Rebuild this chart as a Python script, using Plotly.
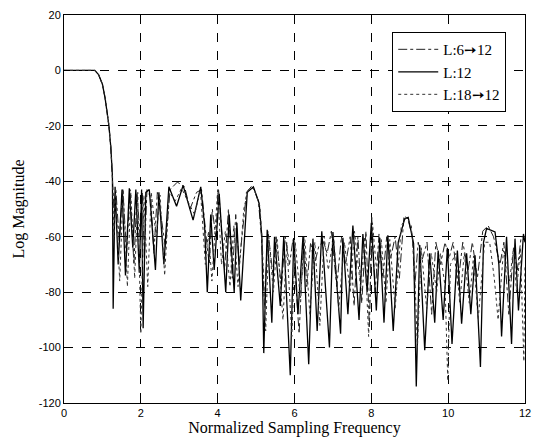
import plotly.graph_objects as go

x_ticks = [0, 2, 4, 6, 8, 10, 12]
y_ticks = [-120, -100, -80, -60, -40, -20, 0, 20]

names = ["L:6\u279912", "L:12", "L:18\u279912"]

# L:12 (solid)
x_l12 = [0, 0.8, 0.9, 1.0, 1.07, 1.12, 1.17, 1.22, 1.26, 1.28, 1.33, 1.41, 1.51, 1.60, 1.70, 1.79, 1.87, 1.96,
         2.02, 2.06, 2.13, 2.22, 2.31, 2.38, 2.47, 2.55, 2.60, 2.73, 2.93, 3.10, 3.36, 3.56, 3.66, 3.73, 3.82,
         3.91, 4.04, 4.21, 4.30, 4.43, 4.50, 4.60, 4.77, 4.93, 5.08, 5.15, 5.20, 5.29, 5.41, 5.48, 5.63, 5.72,
         5.89, 5.98, 6.09, 6.22, 6.37, 6.48, 6.59, 6.71, 6.91, 7.00, 7.20, 7.26, 7.39, 7.52, 7.68, 7.78, 7.89,
         8.00, 8.13, 8.22, 8.33, 8.43, 8.57, 8.70, 8.87, 8.96, 9.10, 9.17, 9.26, 9.39, 9.52, 9.65, 9.74, 9.87,
         9.98, 10.10, 10.24, 10.35, 10.48, 10.59, 10.70, 10.84, 10.92, 11.00, 11.22, 11.32, 11.39, 11.52, 11.65,
         11.74, 11.83, 11.96, 12.0]
y_l12 = [0, 0, -1.5, -5, -10, -15, -20, -28, -38, -86, -42, -70, -43, -74, -42.5, -64, -43, -73,
         -43, -93, -44, -43, -60, -72, -44, -58, -70, -42, -49, -41.5, -54, -42, -56, -80, -52,
         -72, -44.5, -80, -52, -80, -55, -83, -44, -42, -48, -60, -102, -57.5, -91, -60, -85, -60,
         -110, -60.5, -88, -60, -106, -60.7, -94, -58, -100, -58.3, -95, -60.4, -88, -56, -90, -59, -80,
         -55, -86.6, -60.4, -91, -59.5, -94, -62, -53.5, -53, -62.5, -114, -63, -101, -66, -91, -65, -90,
         -64, -98.7, -65, -91.4, -66, -88, -66.7, -107, -62, -57, -58.3, -70, -96, -60, -98.7,
         -60.7, -86.6, -59, -62]

# L:6->12 (dash-dot)
x_l6 = [0, 0.8, 0.9, 1.0, 1.07, 1.12, 1.17, 1.22, 1.26, 1.30, 1.35, 1.44, 1.53, 1.63, 1.72, 1.82, 1.90, 1.98,
        2.04, 2.09, 2.16, 2.26, 2.34, 2.43, 2.52, 2.64, 2.76, 2.95, 3.14, 3.28, 3.45, 3.58, 3.70, 3.78, 3.86,
        3.95, 4.02, 4.12, 4.18, 4.28, 4.38, 4.47, 4.56, 4.75, 4.90, 5.06, 5.14, 5.22, 5.31, 5.44, 5.52, 5.66,
        5.76, 5.87, 5.96, 6.12, 6.24, 6.32, 6.42, 6.52, 6.64, 6.76, 6.85, 6.96, 7.10, 7.22, 7.33, 7.45, 7.55,
        7.65, 7.75, 7.86, 7.95, 8.01, 8.10, 8.20, 8.30, 8.40, 8.50, 8.62, 8.73, 8.85, 8.95, 9.07, 9.13, 9.22,
        9.33, 9.45, 9.57, 9.68, 9.80, 9.92, 10.02, 10.13, 10.25, 10.38, 10.52, 10.63, 10.76, 10.90, 11.04,
        11.18, 11.35, 11.45, 11.58, 11.70, 11.80, 11.90, 12.0]
y_l6 = [0, 0, -1.5, -5, -10, -15, -20, -28, -38, -50, -43, -62, -42.5, -66, -43, -70, -44, -60,
        -44, -68, -43, -46, -66, -44, -52, -64, -43, -40.3, -42, -50, -44, -43, -60, -70, -50,
        -60, -42.5, -62, -72, -50, -75, -52, -70, -44, -41.5, -47, -60, -85, -58, -74, -60, -78,
        -60, -70, -61, -95, -60, -78, -62, -70, -63, -62, -66, -58, -78, -60, -70, -60, -85,
        -60, -84, -58, -93, -53, -80, -59, -75, -60, -68, -60, -75, -52.5, -53.5, -60, -78, -62,
        -68, -62, -88, -62, -70, -62, -68, -62, -78, -62, -72, -62, -75, -58, -56,
        -60, -70, -62, -88, -64, -72, -60, -60]

# L:18->12 (dotted)
x_l18 = [0, 0.8, 0.9, 1.0, 1.07, 1.12, 1.17, 1.22, 1.26, 1.30, 1.34, 1.45, 1.54, 1.65, 1.74, 1.84, 1.92, 2.00,
         2.08, 2.18, 2.27, 2.40, 2.50, 2.62, 2.74, 2.90, 3.06, 3.25, 3.40, 3.55, 3.68, 3.76, 3.85, 4.00, 4.10,
         4.20, 4.32, 4.42, 4.53, 4.68, 4.80, 4.94, 5.10, 5.16, 5.25, 5.33, 5.45, 5.55, 5.70, 5.80, 5.93, 6.02,
         6.15, 6.27, 6.40, 6.53, 6.66, 6.77, 6.88, 7.02, 7.15, 7.30, 7.45, 7.56, 7.72, 7.82, 7.93, 8.03, 8.16,
         8.26, 8.38, 8.48, 8.62, 8.78, 8.92, 9.04, 9.12, 9.20, 9.30, 9.44, 9.56, 9.70, 9.80, 9.92, 9.99, 10.06,
         10.20, 10.30, 10.42, 10.55, 10.66, 10.78, 10.95, 11.08, 11.20, 11.30, 11.44, 11.60, 11.70, 11.78,
         11.88, 11.97, 12.0]
y_l18 = [0, 0, -1.5, -5, -10, -15, -20, -28, -38, -60, -43, -76, -43, -78, -44, -75, -44, -95,
         -45, -78, -44, -60, -45, -74, -44, -47, -42.5, -48, -52, -43, -70, -58, -76, -43, -70,
         -58, -78, -56, -78, -50, -43, -42.5, -49, -62, -94, -60, -80, -61, -90, -62, -96, -62,
         -82, -61, -88, -62, -92, -60, -72, -60, -86, -62, -80, -58, -78, -60, -96, -55, -76,
         -61, -84, -61, -86, -56, -53, -56, -70, -100, -64, -86, -66, -80, -66, -78, -112, -70,
         -66, -84, -66, -84, -67, -90, -62, -62, -75, -90, -65, -76, -64, -80,
         -64, -105, -70]

serif = "Liberation Serif, Times New Roman, serif"
sans = "Liberation Sans, Arial, sans-serif"

fig = go.Figure()
fig.add_trace(go.Scatter(x=x_l6, y=y_l6, mode="lines", name=names[0],
                         line=dict(color="#222222", width=1, dash="dashdot")))
fig.add_trace(go.Scatter(x=x_l12, y=y_l12, mode="lines", name=names[1],
                         line=dict(color="black", width=1.3)))
fig.add_trace(go.Scatter(x=x_l18, y=y_l18, mode="lines", name=names[2],
                         line=dict(color="#333333", width=1, dash="dot")))

axis_common = dict(showline=True, linecolor="black", linewidth=1, mirror=True,
                   showgrid=True, gridcolor="black", gridwidth=1, griddash="dash",
                   ticks="inside", ticklen=4, tickcolor="black", zeroline=False,
                   automargin=False, ticklabeloverflow="allow",
                   tickfont=dict(family=sans, size=11, color="black"))

fig.update_xaxes(range=[0, 12], tickvals=x_ticks, ticktext=[str(v) for v in x_ticks],
                 title=dict(text="Normalized Sampling Frequency", font=dict(family=serif, size=16, color="black"),
                            standoff=0),
                 **axis_common)
fig.update_yaxes(range=[-120, 20], tickvals=y_ticks, ticktext=[str(v) for v in y_ticks],
                 title=dict(text="Log Magnitude", font=dict(family=serif, size=16, color="black"),
                            standoff=10),
                 **axis_common)

fig.update_layout(
    width=533, height=441,
    margin=dict(l=64, r=8, t=15, b=38),
    paper_bgcolor="white", plot_bgcolor="white",
    showlegend=True,
    legend=dict(x=0.712, y=0.956, xanchor="left", yanchor="top",
                bgcolor="white", bordercolor="black", borderwidth=1,
                font=dict(family=serif, size=15, color="black"),
                tracegroupgap=0, itemwidth=40),
)

fig.write_html("out.html", config={"displayModeBar": False},
               post_script="document.body.style.margin='0';document.body.style.overflow='hidden';")
